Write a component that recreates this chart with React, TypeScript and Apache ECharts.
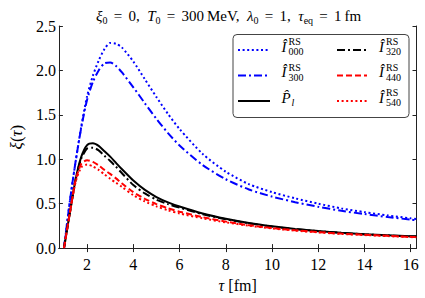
import React, { useEffect, useRef } from "react";
import * as echarts from "echarts";

const tau = [1, 1.25, 1.5, 1.75, 2, 2.25, 2.5, 2.75, 3, 3.25, 3.5, 4, 4.5, 5, 5.5, 6, 7, 8, 9, 10, 11, 12, 13, 14, 15, 16, 16.25];

const I000 = [0, 0.52, 0.97, 1.37, 1.71, 1.94, 2.11, 2.24, 2.31, 2.3, 2.26, 2.1, 1.9, 1.7, 1.51, 1.34, 1.06, 0.86, 0.72, 0.63, 0.56, 0.5, 0.447, 0.405, 0.368, 0.335, 0.328];
const I300 = [0, 0.52, 0.97, 1.36, 1.67, 1.87, 2.0, 2.08, 2.09, 2.05, 1.98, 1.81, 1.63, 1.455, 1.295, 1.155, 0.935, 0.775, 0.66, 0.58, 0.517, 0.465, 0.42, 0.383, 0.35, 0.32, 0.313];
const Pl = [0, 0.39, 0.77, 1.03, 1.16, 1.18, 1.15, 1.09, 1.03, 0.96, 0.89, 0.76, 0.655, 0.575, 0.515, 0.468, 0.39, 0.33, 0.283, 0.246, 0.216, 0.192, 0.173, 0.157, 0.145, 0.134, 0.132];
const I320 = [0, 0.39, 0.77, 1.01, 1.12, 1.13, 1.1, 1.04, 0.98, 0.915, 0.845, 0.71, 0.615, 0.545, 0.495, 0.455, 0.382, 0.325, 0.279, 0.242, 0.213, 0.19, 0.171, 0.155, 0.143, 0.132, 0.13];
const I440 = [0, 0.39, 0.76, 0.95, 0.99, 0.97, 0.93, 0.88, 0.835, 0.785, 0.73, 0.63, 0.555, 0.495, 0.448, 0.41, 0.348, 0.298, 0.258, 0.226, 0.2, 0.18, 0.163, 0.15, 0.138, 0.127, 0.125];
const I540 = [0, 0.39, 0.74, 0.91, 0.94, 0.92, 0.88, 0.83, 0.78, 0.735, 0.69, 0.595, 0.525, 0.47, 0.425, 0.39, 0.335, 0.29, 0.252, 0.222, 0.197, 0.177, 0.16, 0.147, 0.135, 0.124, 0.122];

const xTicks = [2, 4, 6, 8, 10, 12, 14, 16];

const FONT = "Liberation Serif";

const seriesDefs = [
  { name: "I000", data: I000, color: "#0000ff", dash: [2, 2.6] as any },
  { name: "I300", data: I300, color: "#0000ff", dash: [8, 3, 2, 3] as any },
  { name: "Pl", data: Pl, color: "#000000", dash: "solid" as any },
  { name: "I320", data: I320, color: "#000000", dash: [8, 3, 2, 3] as any },
  { name: "I440", data: I440, color: "#ff0000", dash: [6, 3] as any },
  { name: "I540", data: I540, color: "#ff0000", dash: [2, 2.6] as any },
];

function legendItems() {
  const els: any[] = [];
  els.push({
    type: "rect",
    shape: { x: 233, y: 34.5, width: 176, height: 83, r: 4 },
    style: { fill: "#fff", stroke: "#444", lineWidth: 1 },
    z: 100,
  });
  const rows = [50, 75.5, 101];
  const cols = [
    { lx1: 238, lx2: 270, tx: 281.5 },
    { lx1: 337, lx2: 367, tx: 379 },
  ];
  const labels = [
    { sub: "000", hat: true },
    { sub: "300", hat: true },
    { sub: "l", hat: false },
    { sub: "320", hat: true },
    { sub: "440", hat: true },
    { sub: "540", hat: true },
  ];
  seriesDefs.forEach((s, i) => {
    const c = cols[Math.floor(i / 3)];
    const ry = rows[i % 3];
    els.push({
      type: "line",
      shape: { x1: c.lx1, y1: ry, x2: c.lx2, y2: ry },
      style: { stroke: s.color, lineWidth: 2, lineDash: s.dash === "solid" ? null : s.dash },
      z: 101,
    });
    const lab = labels[i];
    if (lab.hat) {
      els.push({
        type: "text", x: c.tx, y: ry - 3.5, z: 101,
        style: { text: "Î", fontFamily: FONT, fontSize: 15, fontStyle: "italic", fill: "#000", verticalAlign: "middle" },
      });
      els.push({
        type: "text", x: c.tx + 7, y: ry - 8.5, z: 101,
        style: { text: "RS", fontFamily: FONT, fontSize: 10, fill: "#000", verticalAlign: "middle" },
      });
      els.push({
        type: "text", x: c.tx + 7, y: ry + 1.5, z: 101,
        style: { text: lab.sub, fontFamily: FONT, fontSize: 10, fill: "#000", verticalAlign: "middle" },
      });
    } else {
      els.push({
        type: "text", x: c.tx, y: ry - 3.5, z: 101,
        style: { text: "P\u0302", fontFamily: FONT, fontSize: 15, fontStyle: "italic", fill: "#000", verticalAlign: "middle" },
      });
      els.push({
        type: "text", x: c.tx + 10, y: ry + 1.5, z: 101,
        style: { text: lab.sub, fontFamily: FONT, fontSize: 10, fontStyle: "italic", fill: "#000", verticalAlign: "middle" },
      });
    }
  });
  return els;
}

const EQ = " \u2006=\u2006 ";

export default function App() {
  const ref = useRef<HTMLDivElement>(null);
  useEffect(() => {
    document.body.style.margin = "0";
    if (!ref.current) return;
    const chart = echarts.init(ref.current, null, { renderer: "svg" });
    const axisLine = { show: true, lineStyle: { color: "#222", width: 1 } };
    const option: any = {
      animation: false,
      backgroundColor: "#fff",
      textStyle: { fontFamily: FONT },
      title: {
        left: 91,
        top: 2,
        text:
          `{it|ξ}{sub|0}{n|${EQ}0,  }{it|T}{sub|0}{n|${EQ}300\u2009MeV,  }` +
          `{it|λ}{sub|0}{n|${EQ}1,  }{it|τ}{sub|eq}{n|${EQ}1\u2009fm}`,
        textStyle: {
          fontFamily: FONT,
          fontSize: 15,
          fontWeight: "normal",
          color: "#000",
          rich: {
            it: { fontFamily: FONT, fontSize: 15, fontStyle: "italic", color: "#000", lineHeight: 18 },
            n: { fontFamily: FONT, fontSize: 15, color: "#000", lineHeight: 18 },
            sub: { fontFamily: FONT, fontSize: 10, color: "#000", verticalAlign: "bottom", lineHeight: 10 },
          },
        },
      },
      grid: { left: 52.5, right: 8.5, top: 26, bottom: 46, containLabel: false },
      xAxis: [
        {
          type: "value",
          min: 0.78,
          max: 16.25,
          position: "bottom",
          axisLine,
          splitLine: { show: false },
          axisTick: { show: true, inside: true, length: 4, customValues: xTicks, lineStyle: { color: "#222" } },
          axisLabel: { show: true, customValues: xTicks, margin: 8, fontFamily: FONT, fontSize: 16, color: "#000" },
          name: "{it|τ}{n| [fm]}",
          nameLocation: "middle",
          nameGap: 25,
          nameTextStyle: {
            fontFamily: FONT,
            rich: {
              it: { fontFamily: FONT, fontSize: 16, fontStyle: "italic", color: "#000" },
              n: { fontFamily: FONT, fontSize: 16, color: "#000" },
            },
          },
        },
        {
          type: "value",
          min: 0.78,
          max: 16.25,
          position: "top",
          axisLine,
          splitLine: { show: false },
          axisTick: { show: true, inside: true, length: 4, customValues: xTicks, lineStyle: { color: "#222" } },
          axisLabel: { show: false },
        },
      ],
      yAxis: [
        {
          type: "value",
          min: 0,
          max: 2.5,
          interval: 0.5,
          position: "left",
          axisLine,
          splitLine: { show: false },
          axisTick: { show: true, inside: true, length: 4, lineStyle: { color: "#222" } },
          axisLabel: {
            margin: 3,
            fontFamily: FONT,
            fontSize: 16,
            color: "#000",
            formatter: (v: number) => v.toFixed(1),
          },
          name: "{it|ξ}{n|(}{it|τ}{n|)}",
          nameLocation: "middle",
          nameGap: 31,
          nameRotate: 90,
          nameTextStyle: {
            fontFamily: FONT,
            rich: {
              it: { fontFamily: FONT, fontSize: 17, fontStyle: "italic", color: "#000" },
              n: { fontFamily: FONT, fontSize: 17, color: "#000" },
            },
          },
        },
        {
          type: "value",
          min: 0,
          max: 2.5,
          interval: 0.5,
          position: "right",
          axisLine,
          splitLine: { show: false },
          axisTick: { show: true, inside: true, length: 4, lineStyle: { color: "#222" } },
          axisLabel: { show: false },
        },
      ],
      series: seriesDefs.map((s) => ({
        name: s.name,
        type: "line",
        xAxisIndex: 0,
        yAxisIndex: 0,
        data: tau.map((t, i) => [t, s.data[i]]),
        showSymbol: false,
        symbol: "none",
        smooth: 0.25,
        lineStyle: { color: s.color, width: 2, type: s.dash },
        itemStyle: { color: s.color },
        z: 2,
      })),
      graphic: legendItems(),
    };
    chart.setOption(option);
    return () => chart.dispose();
  }, []);
  return <div ref={ref} style={{ position: "absolute", left: 0, top: 0, width: 425, height: 298 }} />;
}
